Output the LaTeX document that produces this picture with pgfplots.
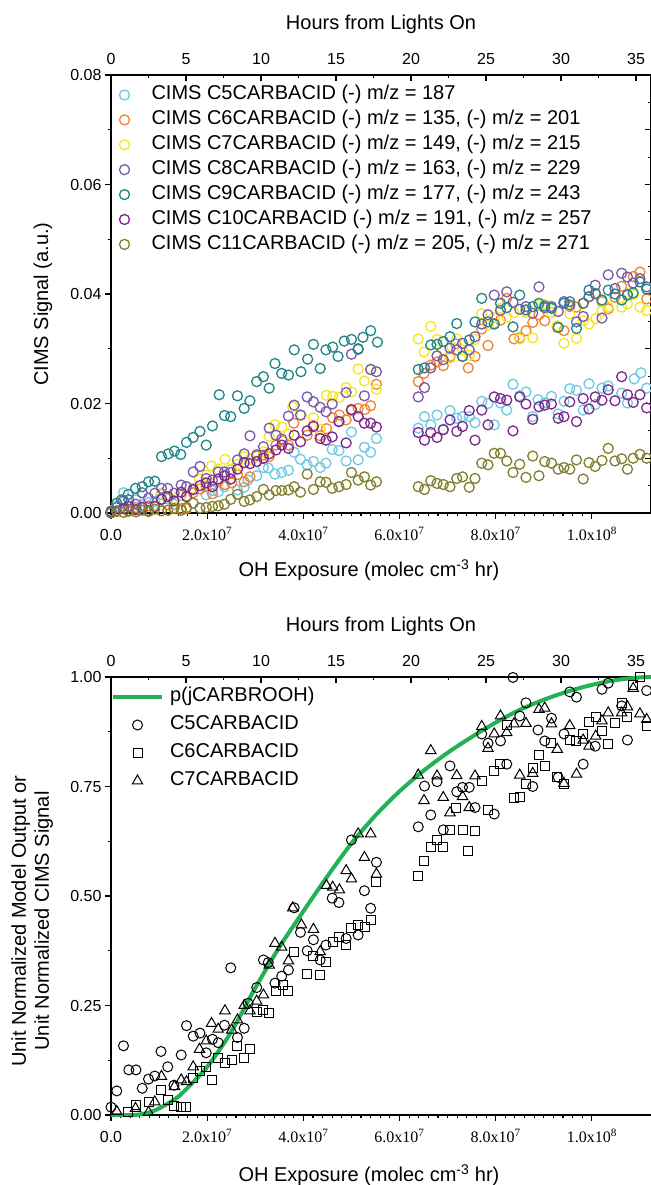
\documentclass[border=0pt]{standalone}
\usepackage{fontspec}
\setmainfont{Liberation Sans}
\newfontfamily\serifx{Liberation Serif}
\usepackage{pgfplots}
\pgfplotsset{compat=1.18}

\definecolor{cC5}{RGB}{112,200,226}
\definecolor{cC6}{RGB}{242,130,48}
\definecolor{cC7}{RGB}{245,228,30}
\definecolor{cC8}{RGB}{122,90,172}
\definecolor{cC9}{RGB}{32,134,134}
\definecolor{cC10}{RGB}{124,40,140}
\definecolor{cC11}{RGB}{128,128,48}
\definecolor{cgreen}{RGB}{34,178,84}

\newcommand\lab{\fontsize{20bp}{23bp}\selectfont}
\newcommand\tck{\fontsize{16bp}{19bp}\selectfont}
\newcommand\sx[2]{{\serifx #1x10\textsuperscript{#2}}}

\pgfplotsset{
  panel/.style={scale only axis, width=540bp, height=438bp, anchor=south west,
    scaled x ticks=false, scaled y ticks=false,
    axis line style={line width=1.2bp},
    major tick style={line width=1.1bp, black}, minor tick style={line width=1.1bp, black},
    major tick length=6bp, minor tick length=3.5bp,
    tick label style={font=\tck}, label style={font=\lab}},
  bottomx/.style={xmin=0, xmax=11.23, axis x line*=bottom, axis y line*=left, tick align=outside,
    x axis line style={-}, y axis line style={-},
    xtick={0,2,4,6,8,10}, xticklabels={0.0,\sx{2.0}{7},\sx{4.0}{7},\sx{6.0}{7},\sx{8.0}{7},\sx{1.0}{8}},
    minor x tick num=9, xticklabel style={text height=18bp, text depth=0bp},
    xlabel={OH Exposure (molec cm\textsuperscript{-3} hr)}},
  hoursx/.style={xmin=0, xmax=36, ymin=0, ymax=1, axis x line*=top, axis y line=none, tick align=inside,
    x axis line style={-},
    xtick={0,5,10,15,20,25,30,35}, xticklabels={0,5,10,15,20,25,30,35}, minor x tick num=1,
    xticklabel style={yshift=7bp},
    xlabel={Hours from Lights On}, xlabel style={at={(axis description cs:0.5,1)}, anchor=center, yshift=51bp}},
  topm/.style={only marks, mark=o, mark size=5bp, line width=1.3bp},
}

\begin{document}
\begin{tikzpicture}
\path[use as bounding box] (0bp,0bp) rectangle (651bp,1185bp);

% ===================== TOP PANEL =====================
\begin{axis}[panel, hoursx, at={(111bp,672bp)}]
\end{axis}
\begin{axis}[panel, at={(111bp,672bp)}, xmin=0, xmax=11.23, ymin=0, ymax=0.08,
  axis y line*=right, axis x line=none, y axis line style={-}, tick align=inside,
  ytick={0,0.01,0.02,0.03,0.04,0.05,0.06,0.07,0.08}, minor y tick num=1, yticklabels={}]
\end{axis}
\begin{axis}[panel, bottomx, at={(111bp,672bp)}, ymin=0, ymax=0.08,
  ytick={0,0.02,0.04,0.06,0.08}, yticklabels={0.00,0.02,0.04,0.06,0.08}, minor y tick num=1,
  xlabel style={at={(axis description cs:0.5,0)}, anchor=center, yshift=-57bp, xshift=-12bp},
  ylabel={CIMS Signal (a.u.)},
  ylabel style={at={(axis description cs:-0.126,0.477)}, anchor=center},
  clip=false,
  legend cell align=left,
  legend image code/.code={\draw[#1] plot coordinates {(0bp,0bp)};},
  legend style={at={(axis description cs:0,1)}, anchor=north west, xshift=8.5bp, yshift=-10bp,
    draw=none, fill=none, inner sep=0pt, outer sep=0pt, font=\lab, row sep=4.9bp, column sep=22bp,
    nodes={inner sep=0pt, text height=15bp, text depth=5bp}}]

\addplot[topm, cC5] coordinates {
(0.00,0.0004)(0.12,0.0013)(0.26,0.0037)(0.37,0.0024)(0.52,0.0024)(0.65,0.0014)(0.78,0.0019)(0.91,0.0021)
(1.04,0.0034)(1.18,0.0026)(1.31,0.0016)(1.46,0.0032)(1.57,0.0048)(1.71,0.0042)(1.85,0.0044)(1.98,0.0033)
(2.11,0.0041)(2.23,0.0039)(2.36,0.0048)(2.49,0.0079)(2.63,0.0042)(2.77,0.0047)(2.85,0.0060)(3.03,0.0068)
(3.17,0.0083)(3.27,0.0082)(3.41,0.0071)(3.55,0.0074)(3.69,0.0078)(3.81,0.0111)(3.94,0.0098)(4.08,0.0088)
(4.21,0.0094)(4.35,0.0083)(4.47,0.0091)(4.60,0.0116)(4.74,0.0114)(4.89,0.0095)(5.00,0.0148)(5.14,0.0097)
(5.27,0.0120)(5.40,0.0111)(5.52,0.0136)
(6.39,0.0155)(6.52,0.0176)(6.65,0.0161)(6.78,0.0179)(6.91,0.0153)(7.05,0.0187)(7.19,0.0173)(7.31,0.0176)
(7.45,0.0176)(7.57,0.0165)(7.71,0.0204)(7.84,0.0200)(7.97,0.0161)(8.10,0.0201)(8.23,0.0188)(8.36,0.0235)
(8.50,0.0214)(8.63,0.0221)(8.77,0.0176)(8.88,0.0207)(9.02,0.0201)(9.16,0.0213)(9.30,0.0181)(9.42,0.0204)
(9.54,0.0227)(9.68,0.0224)(9.82,0.0188)(9.94,0.0236)(10.07,0.0198)(10.21,0.0228)(10.34,0.0232)(10.62,0.0219)
(10.74,0.0201)(10.88,0.0245)(11.02,0.0256)(11.14,0.0228)};
\addplot[topm, cC6] coordinates {
(0.36,0.0003)(0.52,0.0010)(0.78,0.0013)(1.05,0.0025)(1.18,0.0015)(1.31,0.0009)(1.46,0.0008)(1.57,0.0008)
(1.71,0.0037)(1.85,0.0044)(1.98,0.0048)(2.11,0.0035)(2.23,0.0058)(2.37,0.0052)(2.51,0.0055)(2.63,0.0070)
(2.77,0.0057)(2.89,0.0066)(3.03,0.0104)(3.17,0.0106)(3.29,0.0103)(3.43,0.0124)(3.57,0.0131)(3.69,0.0124)
(3.80,0.0164)(4.08,0.0142)(4.21,0.0160)(4.35,0.0141)(4.48,0.0154)(4.61,0.0174)(4.75,0.0179)(4.89,0.0170)
(5.00,0.0187)(5.14,0.0191)(5.28,0.0189)(5.40,0.0196)(5.52,0.0235)
(6.39,0.0240)(6.51,0.0255)(6.65,0.0270)(6.78,0.0276)(6.91,0.0269)(7.05,0.0286)(7.17,0.0309)(7.31,0.0286)
(7.43,0.0265)(7.57,0.0286)(7.71,0.0336)(7.84,0.0306)(7.97,0.0346)(8.10,0.0352)(8.23,0.0392)(8.38,0.0318)
(8.50,0.0320)(8.63,0.0333)(8.77,0.0348)(8.90,0.0362)(9.02,0.0351)(9.16,0.0374)(9.28,0.0339)(9.42,0.0333)
(9.54,0.0377)(9.68,0.0376)(9.82,0.0383)(9.94,0.0395)(10.08,0.0400)(10.21,0.0386)(10.34,0.0373)(10.48,0.0394)
(10.62,0.0414)(10.74,0.0400)(10.86,0.0432)(11.00,0.0440)(11.14,0.0391)};
\addplot[topm, cC7] coordinates {
(0.12,0.0003)(0.51,0.0006)(0.78,0.0002)(0.91,0.0012)(1.05,0.0036)(1.32,0.0027)(1.46,0.0033)(1.57,0.0031)
(1.71,0.0045)(1.84,0.0062)(1.98,0.0069)(2.09,0.0086)(2.23,0.0080)(2.37,0.0098)(2.51,0.0080)(2.63,0.0089)
(2.77,0.0103)(2.89,0.0098)(3.03,0.0107)(3.17,0.0112)(3.29,0.0140)(3.41,0.0161)(3.55,0.0157)(3.69,0.0144)
(3.78,0.0194)(3.96,0.0178)(4.21,0.0174)(4.35,0.0153)(4.48,0.0215)(4.61,0.0213)(4.75,0.0211)(4.89,0.0229)
(5.00,0.0221)(5.14,0.0263)(5.27,0.0241)(5.40,0.0263)(5.52,0.0226)
(6.39,0.0318)(6.51,0.0294)(6.65,0.0341)(6.78,0.0317)(6.91,0.0297)(7.05,0.0283)(7.19,0.0318)(7.31,0.0298)
(7.45,0.0288)(7.57,0.0317)(7.71,0.0364)(7.84,0.0343)(7.97,0.0357)(8.10,0.0374)(8.23,0.0358)(8.38,0.0366)
(8.50,0.0318)(8.63,0.0367)(8.77,0.0320)(8.90,0.0380)(9.02,0.0381)(9.16,0.0366)(9.28,0.0342)(9.42,0.0310)
(9.54,0.0364)(9.68,0.0319)(9.82,0.0351)(9.94,0.0345)(10.08,0.0355)(10.21,0.0369)(10.34,0.0376)(10.62,0.0376)
(10.74,0.0382)(10.86,0.0399)(11.00,0.0376)(11.14,0.0370)};
\addplot[topm, cC8] coordinates {
(0.00,0.0003)(0.12,0.0010)(0.26,0.0022)(0.37,0.0024)(0.52,0.0016)(0.65,0.0037)(0.78,0.0027)(0.91,0.0036)
(1.05,0.0045)(1.18,0.0045)(1.31,0.0036)(1.46,0.0051)(1.57,0.0048)(1.71,0.0075)(1.85,0.0085)(1.98,0.0063)
(2.11,0.0060)(2.23,0.0075)(2.36,0.0075)(2.49,0.0074)(2.63,0.0097)(2.77,0.0108)(2.89,0.0141)(3.03,0.0106)
(3.17,0.0121)(3.29,0.0155)(3.43,0.0142)(3.55,0.0135)(3.69,0.0177)(3.81,0.0197)(3.94,0.0179)(4.08,0.0212)
(4.21,0.0203)(4.35,0.0193)(4.47,0.0185)(4.60,0.0199)(4.74,0.0167)(4.89,0.0220)(5.00,0.0290)(5.14,0.0299)
(5.27,0.0214)(5.40,0.0262)(5.52,0.0258)
(6.39,0.0212)(6.52,0.0229)(6.65,0.0265)(6.78,0.0287)(6.91,0.0280)(7.05,0.0301)(7.19,0.0298)(7.31,0.0310)
(7.45,0.0298)(7.57,0.0322)(7.71,0.0345)(7.84,0.0362)(7.97,0.0398)(8.10,0.0370)(8.23,0.0404)(8.36,0.0385)
(8.50,0.0372)(8.63,0.0377)(8.77,0.0365)(8.90,0.0413)(9.02,0.0375)(9.16,0.0377)(9.30,0.0368)(9.42,0.0386)
(9.54,0.0380)(9.68,0.0349)(9.82,0.0359)(9.94,0.0395)(10.07,0.0416)(10.21,0.0356)(10.34,0.0435)(10.48,0.0410)
(10.62,0.0438)(10.74,0.0431)(10.86,0.0420)(11.00,0.0428)(11.14,0.0413)};
\addplot[topm, cC9] coordinates {
(0.12,0.0018)(0.22,0.0024)(0.36,0.0034)(0.51,0.0045)(0.65,0.0048)(0.78,0.0057)(0.91,0.0058)(1.05,0.0103)
(1.19,0.0108)(1.32,0.0113)(1.45,0.0107)(1.57,0.0129)(1.71,0.0138)(1.85,0.0149)(1.98,0.0124)(2.11,0.0159)
(2.25,0.0216)(2.36,0.0178)(2.49,0.0176)(2.63,0.0214)(2.77,0.0191)(2.89,0.0205)(3.03,0.0240)(3.17,0.0249)
(3.29,0.0228)(3.41,0.0273)(3.55,0.0255)(3.69,0.0252)(3.81,0.0298)(3.95,0.0258)(4.09,0.0281)(4.21,0.0308)
(4.35,0.0264)(4.47,0.0298)(4.61,0.0303)(4.72,0.0286)(4.85,0.0314)(5.00,0.0317)(5.14,0.0300)(5.24,0.0321)
(5.40,0.0333)(5.54,0.0312)
(6.39,0.0262)(6.52,0.0265)(6.65,0.0307)(6.78,0.0308)(6.91,0.0313)(7.05,0.0322)(7.19,0.0346)(7.31,0.0286)
(7.45,0.0316)(7.57,0.0349)(7.71,0.0392)(7.84,0.0349)(7.97,0.0345)(8.10,0.0383)(8.23,0.0375)(8.36,0.0340)
(8.50,0.0398)(8.63,0.0371)(8.77,0.0377)(8.90,0.0383)(9.02,0.0378)(9.16,0.0374)(9.30,0.0339)(9.42,0.0383)
(9.54,0.0386)(9.68,0.0337)(9.82,0.0383)(9.94,0.0407)(10.07,0.0401)(10.21,0.0389)(10.34,0.0407)(10.48,0.0400)
(10.62,0.0389)(10.74,0.0398)(10.86,0.0402)(11.00,0.0422)(11.14,0.0409)};
\addplot[topm, cC10] coordinates {
(0.00,0.0001)(0.12,0.0004)(0.26,0.0008)(0.37,0.0012)(0.52,0.0006)(0.65,0.0010)(0.78,0.0004)(0.91,0.0012)
(1.05,0.0025)(1.18,0.0030)(1.31,0.0022)(1.46,0.0038)(1.57,0.0030)(1.71,0.0043)(1.85,0.0050)(1.98,0.0055)
(2.11,0.0048)(2.23,0.0062)(2.36,0.0068)(2.49,0.0062)(2.63,0.0080)(2.77,0.0092)(2.89,0.0090)(3.03,0.0094)
(3.17,0.0100)(3.29,0.0108)(3.43,0.0115)(3.55,0.0124)(3.69,0.0118)(3.81,0.0142)(3.94,0.0130)(4.08,0.0150)
(4.21,0.0158)(4.35,0.0136)(4.47,0.0133)(4.60,0.0139)(4.74,0.0167)(4.89,0.0128)(5.00,0.0189)(5.14,0.0176)
(5.27,0.0164)(5.40,0.0164)(5.52,0.0157)
(6.39,0.0147)(6.52,0.0133)(6.65,0.0147)(6.78,0.0138)(6.91,0.0152)(7.05,0.0170)(7.19,0.0149)(7.31,0.0158)
(7.45,0.0187)(7.57,0.0133)(7.71,0.0188)(7.84,0.0161)(7.97,0.0212)(8.10,0.0209)(8.23,0.0206)(8.36,0.0150)
(8.50,0.0212)(8.63,0.0199)(8.77,0.0171)(8.90,0.0194)(9.02,0.0197)(9.16,0.0199)(9.30,0.0173)(9.42,0.0176)
(9.54,0.0203)(9.68,0.0167)(9.82,0.0209)(9.94,0.0190)(10.07,0.0212)(10.21,0.0206)(10.34,0.0225)(10.48,0.0205)
(10.62,0.0249)(10.74,0.0216)(10.86,0.0202)(11.00,0.0216)(11.14,0.0192)};
\addplot[topm, cC11] coordinates {
(0.00,0.0000)(0.12,0.0003)(0.26,0.0001)(0.37,0.0004)(0.52,0.0002)(0.65,0.0005)(0.78,0.0003)(0.91,0.0007)
(1.05,0.0004)(1.18,0.0005)(1.31,0.0008)(1.46,0.0005)(1.57,0.0010)(1.71,0.0018)(1.85,0.0009)(1.98,0.0010)
(2.11,0.0012)(2.23,0.0013)(2.36,0.0016)(2.49,0.0025)(2.63,0.0034)(2.77,0.0021)(2.89,0.0024)(3.03,0.0030)
(3.17,0.0043)(3.29,0.0033)(3.43,0.0041)(3.55,0.0041)(3.69,0.0042)(3.81,0.0048)(3.94,0.0038)(4.08,0.0071)
(4.21,0.0043)(4.35,0.0057)(4.47,0.0056)(4.60,0.0045)(4.74,0.0048)(4.89,0.0052)(5.00,0.0074)(5.14,0.0060)
(5.27,0.0066)(5.40,0.0051)(5.52,0.0057)
(6.39,0.0048)(6.52,0.0043)(6.65,0.0059)(6.78,0.0054)(6.91,0.0052)(7.05,0.0048)(7.19,0.0063)(7.31,0.0066)
(7.45,0.0047)(7.57,0.0063)(7.71,0.0091)(7.84,0.0088)(7.97,0.0109)(8.10,0.0109)(8.23,0.0095)(8.36,0.0074)
(8.50,0.0089)(8.63,0.0065)(8.77,0.0104)(8.90,0.0068)(9.02,0.0094)(9.16,0.0091)(9.30,0.0080)(9.42,0.0083)
(9.54,0.0080)(9.68,0.0097)(9.82,0.0062)(9.94,0.0092)(10.07,0.0085)(10.21,0.0096)(10.34,0.0118)(10.48,0.0095)
(10.62,0.0099)(10.74,0.0080)(10.86,0.0100)(11.00,0.0107)(11.14,0.0100)};
\legend{CIMS C5CARBACID (-) m/z = 187,
  {CIMS C6CARBACID (-) m/z = 135, (-) m/z = 201},
  {CIMS C7CARBACID (-) m/z = 149, (-) m/z = 215},
  {CIMS C8CARBACID (-) m/z = 163, (-) m/z = 229},
  {CIMS C9CARBACID (-) m/z = 177, (-) m/z = 243},
  {CIMS C10CARBACID (-) m/z = 191, (-) m/z = 257},
  {CIMS C11CARBACID (-) m/z = 205, (-) m/z = 271}}
\end{axis}

% ===================== BOTTOM PANEL =====================
\begin{axis}[panel, hoursx, at={(111bp,70bp)}]
\end{axis}
\begin{axis}[panel, bottomx, at={(111bp,70bp)}, ymin=0, ymax=1,
  ytick={0,0.25,0.5,0.75,1}, yticklabels={0.00,0.25,0.50,0.75,1.00}, minor y tick num=1,
  xlabel style={at={(axis description cs:0.5,0)}, anchor=center, yshift=-60bp, xshift=-12bp},
  ylabel={Unit Normalized Model Output or\\Unit Normalized CIMS Signal},
  ylabel style={align=center, at={(axis description cs:-0.146,0.443)}, anchor=center},
  clip=false,
  legend cell align=left,
  legend image code/.code={\draw[#1] plot coordinates {(24.5bp,0bp)};},
  legend style={at={(axis description cs:0,1)}, anchor=north west, xshift=0bp, yshift=-10bp,
    draw=none, fill=none, inner sep=0pt, outer sep=0pt, font=\lab, row sep=8bp, column sep=6bp,
    nodes={inner sep=0pt, text height=15bp, text depth=5bp}}]
\addplot[cgreen, line width=4bp, smooth, no marks,
  legend image code/.code={\draw[cgreen, line width=4bp] (0bp,0bp) -- (49bp,0bp);}] coordinates {
(0.0,0.0)(0.5,0.0)(0.8,0.006)(1.0,0.015)(1.3,0.034)(1.5,0.052)(2.0,0.110)(2.5,0.190)(3.0,0.290)
(3.5,0.383)(4.0,0.465)(4.5,0.545)(5.0,0.620)(5.5,0.684)(6.0,0.739)(6.5,0.786)(7.0,0.827)(7.5,0.863)
(8.0,0.896)(8.5,0.925)(9.0,0.948)(9.5,0.967)(10.0,0.982)(10.5,0.993)(11.0,0.999)(11.23,1.0)};
\addplot[only marks, mark=o, mark size=5bp, line width=1bp, black] coordinates {
(0.00,0.018)(0.12,0.055)(0.26,0.158)(0.37,0.103)(0.52,0.103)(0.65,0.061)(0.78,0.082)(0.91,0.089)
(1.04,0.145)(1.18,0.110)(1.31,0.068)(1.46,0.137)(1.57,0.204)(1.71,0.180)(1.85,0.187)(1.98,0.142)
(2.11,0.173)(2.23,0.165)(2.36,0.205)(2.49,0.336)(2.63,0.177)(2.77,0.198)(2.85,0.255)(3.03,0.291)
(3.17,0.354)(3.27,0.348)(3.41,0.301)(3.55,0.317)(3.69,0.331)(3.81,0.473)(3.94,0.417)(4.08,0.375)
(4.21,0.400)(4.35,0.354)(4.47,0.388)(4.60,0.495)(4.74,0.485)(4.89,0.403)(5.00,0.628)(5.14,0.411)
(5.27,0.512)(5.40,0.472)(5.52,0.577)
(6.39,0.658)(6.52,0.751)(6.65,0.685)(6.78,0.761)(6.91,0.651)(7.05,0.797)(7.19,0.738)(7.31,0.748)
(7.45,0.748)(7.57,0.702)(7.71,0.870)(7.84,0.849)(7.97,0.687)(8.10,0.854)(8.23,0.801)(8.36,0.999)
(8.50,0.911)(8.63,0.941)(8.77,0.750)(8.88,0.879)(9.02,0.854)(9.16,0.906)(9.30,0.771)(9.42,0.870)
(9.54,0.966)(9.68,0.954)(9.82,0.801)(10.07,0.842)(10.21,0.972)(10.34,0.986)(10.62,0.934)(10.74,0.856)
(11.14,0.969)};
\addplot[only marks, mark=square, mark size=4.5bp, line width=1bp, black] coordinates {
(0.36,0.006)(0.52,0.023)(0.78,0.030)(1.05,0.056)(1.18,0.034)(1.31,0.020)(1.46,0.019)(1.57,0.018)
(1.71,0.084)(1.85,0.101)(1.98,0.109)(2.11,0.080)(2.23,0.131)(2.37,0.119)(2.51,0.125)(2.63,0.158)
(2.77,0.129)(2.89,0.150)(3.03,0.236)(3.17,0.240)(3.29,0.234)(3.43,0.282)(3.57,0.297)(3.69,0.282)
(3.80,0.373)(4.08,0.323)(4.21,0.363)(4.35,0.320)(4.48,0.350)(4.61,0.396)(4.75,0.407)(4.89,0.387)
(5.00,0.426)(5.14,0.434)(5.28,0.430)(5.40,0.445)(5.52,0.533)
(6.39,0.546)(6.51,0.580)(6.65,0.613)(6.78,0.628)(6.91,0.611)(7.05,0.651)(7.17,0.702)(7.31,0.651)
(7.43,0.603)(7.57,0.649)(7.71,0.763)(7.84,0.696)(7.97,0.786)(8.10,0.801)(8.23,0.890)(8.38,0.723)
(8.50,0.727)(8.63,0.756)(8.77,0.792)(8.90,0.823)(9.02,0.797)(9.16,0.849)(9.28,0.771)(9.42,0.756)
(9.54,0.856)(9.68,0.854)(9.82,0.870)(9.94,0.898)(10.08,0.908)(10.21,0.877)(10.34,0.847)(10.48,0.896)
(10.62,0.940)(10.74,0.908)(10.86,0.982)(11.00,0.999)(11.14,0.888)};
\addplot[only marks, mark=triangle, mark size=6bp, line width=1bp, black] coordinates {
(0.12,0.008)(0.51,0.015)(0.78,0.006)(0.91,0.030)(1.05,0.088)(1.32,0.065)(1.46,0.080)(1.57,0.076)
(1.71,0.110)(1.84,0.150)(1.98,0.169)(2.09,0.209)(2.23,0.196)(2.37,0.238)(2.51,0.194)(2.63,0.217)
(2.77,0.250)(2.89,0.238)(3.03,0.260)(3.17,0.274)(3.29,0.342)(3.41,0.392)(3.55,0.383)(3.69,0.352)
(3.78,0.473)(3.96,0.434)(4.21,0.424)(4.35,0.373)(4.48,0.524)(4.61,0.520)(4.75,0.514)(4.89,0.558)
(5.00,0.539)(5.14,0.642)(5.27,0.588)(5.40,0.642)(5.52,0.550)
(6.39,0.776)(6.51,0.718)(6.65,0.832)(6.78,0.774)(6.91,0.725)(7.05,0.690)(7.19,0.775)(7.31,0.727)
(7.45,0.702)(7.57,0.774)(7.71,0.887)(7.84,0.837)(7.97,0.870)(8.10,0.911)(8.23,0.873)(8.38,0.893)
(8.50,0.776)(8.63,0.894)(8.77,0.780)(8.90,0.926)(9.02,0.929)(9.16,0.893)(9.28,0.835)(9.42,0.757)
(9.54,0.889)(9.68,0.778)(9.82,0.856)(9.94,0.842)(10.08,0.865)(10.21,0.900)(10.34,0.918)(10.62,0.918)
(10.74,0.932)(10.86,0.974)(11.00,0.916)(11.14,0.903)};
\legend{p(jCARBROOH),C5CARBACID,C6CARBACID,C7CARBACID}
\end{axis}
\end{tikzpicture}
\end{document}
